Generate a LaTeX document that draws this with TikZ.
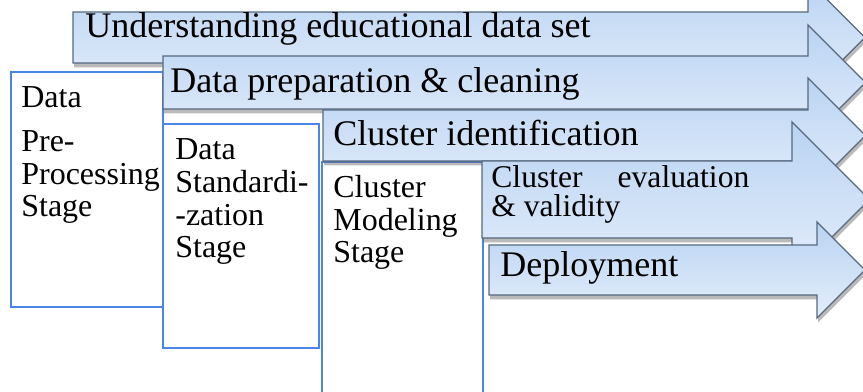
\documentclass[tikz,border=0pt]{standalone}
\usepackage{fontspec}
\setmainfont{Liberation Serif}
\usetikzlibrary{shadows}

\definecolor{stageblue}{HTML}{4A86E8}
\definecolor{arrowtop}{HTML}{B9D3F2}
\definecolor{arrowbot}{HTML}{E4EEFB}
\definecolor{arrowline}{HTML}{56697F}

% phase arrow: #1 left, #2 top, #3 bottom, #4 x of the head, #5 half height of the head
\newcommand{\phasearrow}[5]{%
  \pgfmathsetmacro{\arrmid}{(#2+#3)/2}%
  \path[phase] (#1,#2) -- (#4,#2) -- (#4,\arrmid-#5) -- (#4+#5,\arrmid)
    -- (#4,\arrmid+#5) -- (#4,#3) -- (#1,#3) -- cycle;}

\begin{document}
\begin{tikzpicture}[x=0.2mm,y=-0.2mm]
  \tikzstyle{stagebox}=[draw=stageblue, line width=0.55mm, fill=white]
  \tikzstyle{phase}=[draw=arrowline, line width=0.25mm, top color=arrowtop, bottom color=arrowbot,
    drop shadow={shadow xshift=0.2mm, shadow yshift=-0.9mm, fill=black!60, opacity=0.45}]
  \tikzstyle{phasetext}=[anchor=base west, inner sep=0pt, align=left, font=\fontsize{20.5}{17}\selectfont]
  \tikzstyle{stagetext}=[anchor=base west, inner sep=0pt, align=left, font=\fontsize{18.2}{18.7}\selectfont]

  \useasboundingbox (0,0) rectangle (863,392);
  \clip (0,0) rectangle (863,392);

  % stages (text nodes sit on the baseline of their last line)
  \draw[stagebox] (11,72) rectangle (163,307);
  \draw[stagebox] (163,124) rectangle (319,348);
  \draw[stagebox] (322,162) rectangle (483,410);

  \node[stagetext] (prepA) at (21,108) {Data};
  \node[stagetext] (prepB) at (21,217) {Pre-\\Processing\\Stage};
  \node[stagetext] (std)   at (175,258) {Data\\Standardi-\\-zation\\Stage};
  \node[stagetext] (model) at (333,263) {Cluster\\Modeling\\Stage};

  % phases, each one over the one before
  \phasearrow{73}{12}{63}{808}{57}
  \node[phasetext] (understand) at (85,38) {Understanding educational data set};
  \phasearrow{163}{56}{109}{808}{57.5}
  \node[phasetext] (clean) at (170,93) {Data preparation \& cleaning};
  \phasearrow{323}{110}{161}{808}{57.5}
  \node[phasetext] (ident) at (333,146) {Cluster identification};
  \phasearrow{482}{161}{238}{792}{77.5}
  \node[phasetext, font=\fontsize{18}{17}\selectfont] (eval) at (491,217)
    {\makebox[5.16cm][s]{Cluster evaluation}\\\& validity};
  \phasearrow{489}{245}{295}{817}{48}
  \node[phasetext] (deploy) at (500,277) {Deployment};
\end{tikzpicture}
\end{document}
